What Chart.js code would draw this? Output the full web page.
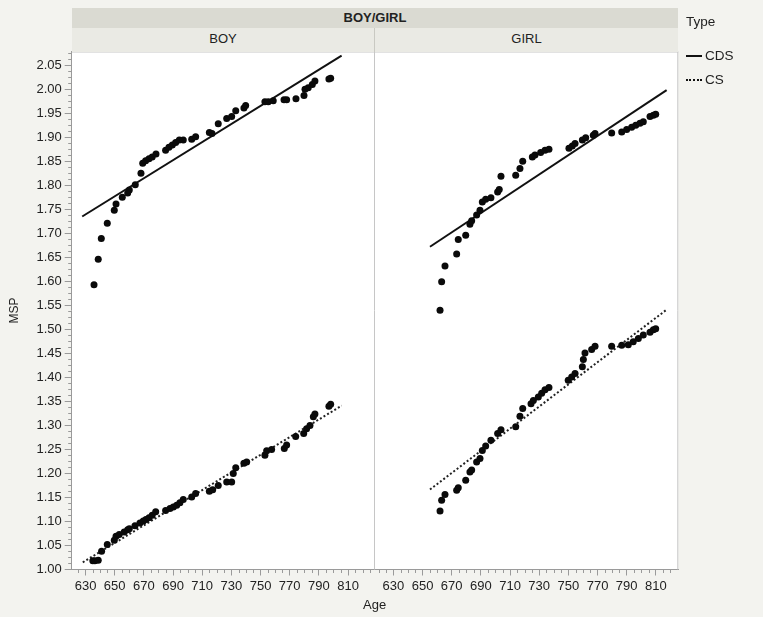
<!DOCTYPE html>
<html>
<head>
<meta charset="utf-8">
<script src="https://cdn.jsdelivr.net/npm/chart.js@4.4.1/dist/chart.umd.min.js"></script>
<style>
  html, body { margin: 0; padding: 0; background: #f3f3ef; }
  #wrap { position: relative; width: 763px; height: 617px; background: #f3f3ef; overflow: hidden;
          font-family: "Liberation Sans", Arial, sans-serif; color: #222; }
  canvas { position: absolute; top: 0; }
  .band1 { position: absolute; left: 72px; top: 8px; width: 606px; height: 20px; background: #dadad2;
           font-weight: bold; font-size: 13px; line-height: 20px; text-align: center; }
  .band2 { position: absolute; top: 28px; height: 23.5px; background: #eaeae4; font-size: 13px;
           line-height: 22px; text-align: center; }
  .lbl { position: absolute; font-size: 13px; white-space: nowrap; }
  .leg { position: absolute; left: 686px; font-size: 13.5px; white-space: nowrap; }
  .sw { display: inline-block; width: 16px; vertical-align: middle; margin-right: 3px; }
</style>
</head>
<body>
<div id="wrap">
  <canvas id="cBoy" width="375" height="617" style="left:0px"></canvas>
  <canvas id="cGirl" width="388" height="617" style="left:375px"></canvas>
  <div class="band1">BOY/GIRL</div>
  <div class="band2" style="left:72px;width:302px;border-right:1px solid #c9c9c2;">BOY</div>
  <div class="band2" style="left:375px;width:303px;">GIRL</div>
  <div class="lbl" style="left:363px;top:597px;">Age</div>
  <div class="leg" style="top:14px;">Type</div>
  <div class="leg" style="top:48px;"><span class="sw" style="border-top:2px solid #111;"></span>CDS</div>
  <div class="leg" style="top:72px;"><span class="sw" style="border-top:2px dotted #111;"></span>CS</div>
</div>
<script>
// ---- Data ----
const panels = ['BOY', 'GIRL'];
const types = ['CDS', 'CS'];
const xTickLabels = [630, 650, 670, 690, 710, 730, 750, 770, 790, 810];
const yTickLabels = [1.00, 1.05, 1.10, 1.15, 1.20, 1.25, 1.30, 1.35, 1.40, 1.45, 1.50, 1.55,
                     1.60, 1.65, 1.70, 1.75, 1.80, 1.85, 1.90, 1.95, 2.00, 2.05];

const boyCdsAge = [635.8, 638.7, 640.8, 644.9, 649.7, 650.9, 655.2, 658.9, 660.0, 664.1, 668.0, 669.2,
  671.2, 673.5, 675.7, 678.3, 684.9, 687.2, 689.5, 691.8, 694.3, 697.0, 702.8, 705.5, 714.9, 716.7,
  721.0, 726.8, 730.2, 733.0, 738.6, 739.8, 753.0, 755.3, 758.7, 766.1, 767.9, 774.3, 779.8, 780.5,
  782.7, 785.5, 787.3, 796.9, 798.1];
const boyCds = [1.593, 1.646, 1.689, 1.721, 1.748, 1.761, 1.775, 1.784, 1.790, 1.801, 1.825, 1.846,
  1.851, 1.855, 1.859, 1.865, 1.873, 1.879, 1.884, 1.889, 1.894, 1.894, 1.896, 1.901, 1.910, 1.908,
  1.928, 1.939, 1.943, 1.955, 1.961, 1.966, 1.974, 1.974, 1.976, 1.978, 1.978, 1.980, 1.987, 2.000,
  2.003, 2.010, 2.017, 2.021, 2.023];

const boyCsAge = [635.0, 636.4, 638.7, 641.0, 644.9, 649.7, 650.9, 653.1, 656.5, 658.9, 660.0, 663.9,
  667.3, 669.6, 671.4, 673.5, 675.7, 678.1, 684.9, 687.9, 690.2, 692.5, 694.7, 697.0, 702.8, 705.5,
  714.9, 717.2, 721.0, 726.8, 730.2, 731.3, 733.0, 738.6, 740.5, 753.0, 754.2, 757.6, 766.3, 767.9,
  774.1, 779.6, 781.6, 783.9, 786.2, 787.3, 796.9, 798.1];
const boyCs = [1.018, 1.018, 1.019, 1.038, 1.052, 1.061, 1.069, 1.073, 1.078, 1.083, 1.085, 1.091,
  1.097, 1.101, 1.104, 1.108, 1.113, 1.120, 1.123, 1.127, 1.130, 1.134, 1.139, 1.146, 1.151, 1.158,
  1.163, 1.166, 1.175, 1.182, 1.182, 1.200, 1.212, 1.221, 1.224, 1.238, 1.247, 1.250, 1.252, 1.259,
  1.277, 1.283, 1.293, 1.300, 1.318, 1.324, 1.340, 1.344];

const girlCdsAge = [662.0, 663.1, 665.4, 673.4, 674.5, 679.6, 682.5, 683.7, 687.1, 689.4, 691.0, 693.3,
  696.9, 701.5, 702.6, 703.8, 713.9, 716.8, 718.7, 725.3, 727.1, 731.0, 734.0, 736.7, 750.4, 752.7,
  754.6, 759.6, 761.9, 767.1, 768.3, 779.7, 786.6, 790.0, 793.4, 796.2, 799.1, 801.4, 806.0, 808.3, 809.9];
const girlCds = [1.540, 1.599, 1.632, 1.657, 1.687, 1.696, 1.719, 1.726, 1.738, 1.748, 1.765, 1.771,
  1.774, 1.786, 1.791, 1.819, 1.821, 1.835, 1.850, 1.859, 1.863, 1.868, 1.873, 1.875, 1.877, 1.882,
  1.887, 1.894, 1.899, 1.904, 1.908, 1.909, 1.911, 1.916, 1.921, 1.925, 1.929, 1.932, 1.943, 1.946, 1.948];

const girlCsAge = [662.0, 663.1, 665.4, 673.4, 674.5, 679.6, 682.5, 683.7, 687.1, 689.4, 691.0, 693.3,
  696.9, 701.5, 703.8, 713.9, 716.8, 718.7, 724.4, 726.0, 729.4, 731.7, 734.0, 736.7, 749.9, 752.3,
  754.6, 759.6, 760.3, 761.4, 766.0, 768.3, 779.7, 786.6, 791.1, 794.5, 798.0, 801.4, 806.0, 808.3, 809.9];
const girlCs = [1.122, 1.144, 1.156, 1.165, 1.170, 1.186, 1.203, 1.207, 1.224, 1.231, 1.248, 1.257,
  1.269, 1.283, 1.291, 1.297, 1.319, 1.335, 1.345, 1.352, 1.359, 1.367, 1.374, 1.379, 1.394, 1.401,
  1.408, 1.422, 1.437, 1.451, 1.458, 1.465, 1.465, 1.467, 1.468, 1.474, 1.481, 1.488, 1.494, 1.499, 1.501];

// fitted lines (end points)
const boyCdsFitAge = [627.7, 805.6],  boyCdsFit = [1.735, 2.070];
const boyCsFitAge  = [628.1, 805.6],  boyCsFit  = [1.015, 1.341];
const girlCdsFitAge = [655.1, 817.4], girlCdsFit = [1.672, 1.998];
const girlCsFitAge  = [655.1, 817.4], girlCsFit  = [1.1665, 1.541];

// ---- helpers ----
const pts = (xs, ys) => xs.map((x, i) => ({ x: x, y: ys[i] }));
const FONT = '"Liberation Sans", Arial, sans-serif';

const framePlugin = {
  id: 'frame',
  beforeDraw(chart) {
    const { ctx, chartArea: a } = chart;
    ctx.save();
    ctx.fillStyle = '#ffffff';
    ctx.fillRect(a.left, a.top, a.right - a.left, a.bottom - a.top);
    ctx.restore();
  },
  afterDraw(chart, args, opts) {
    const { ctx, chartArea: a } = chart;
    ctx.save();
    ctx.strokeStyle = '#c6c6c6';
    ctx.lineWidth = 1;
    ctx.beginPath();
    ctx.moveTo(a.left, a.top + 0.5); ctx.lineTo(a.right, a.top + 0.5);
    ctx.moveTo(a.right - 0.5, a.top); ctx.lineTo(a.right - 0.5, a.bottom);
    ctx.stroke();
    // minor ticks
    ctx.strokeStyle = '#9a9a9a';
    ctx.beginPath();
    const xs = chart.scales.x;
    for (let v = 620; v <= 825; v += 5) {
      if (xTickLabels.includes(v)) continue;
      const px = Math.round(xs.getPixelForValue(v)) + 0.5;
      if (px < a.left || px > a.right) continue;
      ctx.moveTo(px, a.bottom); ctx.lineTo(px, a.bottom + 3.5);
    }
    if (opts.yMinor) {
      const ys = chart.scales.y;
      for (let k = 0; k <= 86; k++) {
        if (k % 4 === 0) continue;
        const v = 1 + k * 0.0125;
        const py = Math.round(ys.getPixelForValue(v)) + 0.5;
        if (py < a.top) continue;
        ctx.moveTo(a.left - 3.5, py); ctx.lineTo(a.left, py);
      }
    }
    ctx.stroke();
    ctx.restore();
  }
};

function makeChart(id, cds, cs, cdsFit, csFit, xMin, xMax, showY, padRight) {
  return new Chart(document.getElementById(id), {
    type: 'scatter',
    data: {
      datasets: [
        { label: types[0] + ' fit', type: 'line', data: cdsFit, borderColor: '#111', borderWidth: 2,
          pointRadius: 0, fill: false, tension: 0, order: 2 },
        { label: types[1] + ' fit', type: 'line', data: csFit, borderColor: '#222', borderWidth: 2,
          borderDash: [2, 2.2], pointRadius: 0, fill: false, tension: 0, order: 2 },
        { label: types[0], data: cds, backgroundColor: '#0a0a0a', borderColor: '#0a0a0a',
          pointRadius: 3.5, borderWidth: 0, order: 1 },
        { label: types[1], data: cs, backgroundColor: '#0a0a0a', borderColor: '#0a0a0a',
          pointRadius: 3.5, borderWidth: 0, order: 1 }
      ]
    },
    plugins: [framePlugin],
    options: {
      responsive: false,
      animation: false,
      devicePixelRatio: 1,
      layout: { autoPadding: false, padding: { top: 51.5, bottom: 0, left: 0, right: padRight } },
      plugins: {
        legend: { display: false },
        tooltip: { enabled: false },
        frame: { yMinor: showY }
      },
      scales: {
        x: {
          type: 'linear', position: 'bottom', min: xMin, max: xMax,
          afterBuildTicks: s => { s.ticks = xTickLabels.map(v => ({ value: v })); },
          afterFit: s => { s.height = 47.5; },
          grid: { drawOnChartArea: false, drawTicks: true, tickLength: 6, tickColor: '#9a9a9a' },
          border: { display: true, color: '#9a9a9a' },
          ticks: { color: '#222', padding: 3, maxRotation: 0, autoSkip: false,
                   font: { family: FONT, size: 13 }, callback: v => String(v) }
        },
        y: {
          type: 'linear', display: showY, min: 1.0, max: 2.0785,
          afterBuildTicks: s => { s.ticks = yTickLabels.map(v => ({ value: v })); },
          afterFit: s => { s.width = showY ? 71.7 : 0; },
          grid: { drawOnChartArea: false, drawTicks: true, tickLength: 7, tickColor: '#9a9a9a' },
          border: { display: true, color: '#9a9a9a' },
          ticks: { color: '#222', padding: 3, autoSkip: false,
                   font: { family: FONT, size: 13 }, callback: v => Number(v).toFixed(2) },
          title: { display: true, text: 'MSP', color: '#222', padding: { top: 7, bottom: 0 },
                   font: { family: FONT, size: 12 } }
        }
      }
    }
  });
}

makeChart('cBoy', pts(boyCdsAge, boyCds), pts(boyCsAge, boyCs),
          pts(boyCdsFitAge, boyCdsFit), pts(boyCsFitAge, boyCsFit), 620.5, 828.5, true, 0);
makeChart('cGirl', pts(girlCdsAge, girlCds), pts(girlCsAge, girlCs),
          pts(girlCdsFitAge, girlCdsFit), pts(girlCsFitAge, girlCsFit), 617.4, 825.4, false, 84.7);
</script>
</body>
</html>
